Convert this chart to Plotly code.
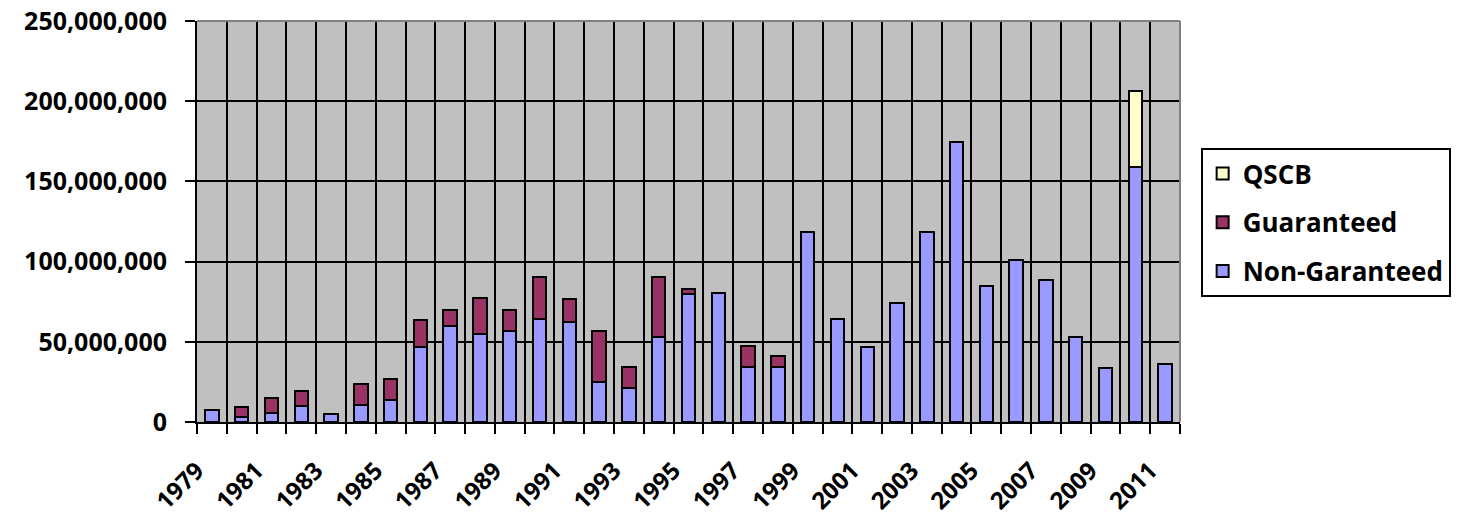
import plotly.graph_objects as go

years = list(range(1979, 2012))

non_guaranteed = [7.5, 3.3, 5.8, 10.0, 5.0, 10.6, 13.7, 46.9, 59.8, 54.7, 56.7, 64.2, 62.1,
                  24.7, 21.0, 53.2, 79.6, 80.2, 34.5, 34.5, 118.2, 64.0, 46.6, 74.0, 118.2,
                  174.4, 84.8, 101.0, 88.5, 52.8, 33.7, 159.2, 36.0]
guaranteed = [None, 5.9, 9.0, 9.3, None, 12.9, 12.9, 16.7, 10.0, 22.4, 13.1, 26.0, 14.6,
              32.2, 13.1, 37.4, 3.3, None, 12.9, 6.6, None, None, None, None, None,
              None, None, None, None, None, None, None, None]
qscb = [None] * 31 + [47.0, None]

scale = 1_000_000
tick_years = list(range(1979, 2012, 2))
tick_labels = [str(y) for y in tick_years]

font_family = "Open Sans"
x_range = [years[0] - 0.5, years[-1] + 0.5]

def sc(arr):
    return [None if v is None else v * scale for v in arr]

fig = go.Figure()
line = dict(color="black", width=2)
fig.add_trace(go.Bar(x=years, y=sc(non_guaranteed), name="Non-Garanteed", legendgroup="a",
                     legendrank=3, marker=dict(color="#9999FF", line=line), width=0.45))
fig.add_trace(go.Bar(x=years, y=sc(guaranteed), name="Guaranteed", legendgroup="b",
                     legendrank=2, marker=dict(color="#993366", line=line), width=0.45))
fig.add_trace(go.Bar(x=years, y=sc(qscb), name="QSCB", legendgroup="c",
                     legendrank=1, marker=dict(color="#FFFFCC", line=line), width=0.45))
# invisible helper trace so the label axis (x2) is drawn
fig.add_trace(go.Scatter(x=years, y=sc(non_guaranteed), xaxis="x2", yaxis="y",
                         mode="markers", marker=dict(opacity=0, size=1),
                         showlegend=False, hoverinfo="skip"))

fig.update_layout(
    barmode="stack",
    width=1463, height=521,
    margin=dict(l=197, r=281, t=21, b=99),
    paper_bgcolor="white",
    plot_bgcolor="#C0C0C0",
    font=dict(family=font_family, size=25, color="black", weight="bold"),
    legend=dict(traceorder="grouped", x=1.021, xanchor="left", y=0.683,
                yanchor="top", bordercolor="black", borderwidth=2, bgcolor="white",
                font=dict(family=font_family, size=26, weight="bold"),
                tracegroupgap=12, itemwidth=30),
    # category boundaries: gridlines and tick marks
    xaxis=dict(range=x_range, tickmode="linear", tick0=x_range[0], dtick=1,
               showticklabels=False, showgrid=True, gridcolor="black", gridwidth=2,
               ticks="outside", ticklen=10, tickcolor="black", tickwidth=2,
               showline=True, linecolor="black", linewidth=2, zeroline=False,
               automargin=False),
    # year labels every other category
    xaxis2=dict(overlaying="x", anchor="y", side="bottom", range=x_range,
                tickmode="array", tickvals=tick_years, ticktext=tick_labels,
                tickangle=-45, showgrid=False, showline=False, zeroline=False,
                ticks="outside", ticklen=24, tickcolor="rgba(0,0,0,0)",
                automargin=False, ticklabelshift=-15,
                tickfont=dict(family=font_family, size=24, weight="bold")),
    yaxis=dict(range=[0, 250 * scale], dtick=50 * scale, tickformat=",",
               ticksuffix="\u00a0\u00a0",
               showgrid=True, gridcolor="black", gridwidth=2, ticks="outside",
               ticklen=10, tickcolor="black", tickwidth=2, showline=True,
               linecolor="black", linewidth=2, zeroline=False, automargin=False,
               ticklabeloverflow="allow",
               tickfont=dict(family=font_family, size=25, weight="bold")),
    shapes=[
        dict(type="line", xref="paper", yref="paper", x0=0, x1=1, y0=1, y1=1,
             line=dict(color="#808080", width=2)),
        dict(type="line", xref="paper", yref="paper", x0=1, x1=1, y0=0, y1=1,
             line=dict(color="#808080", width=2)),
    ],
)

fig.write_html("out.html", post_script="document.body.style.margin='0';",
               config={"displayModeBar": False})
